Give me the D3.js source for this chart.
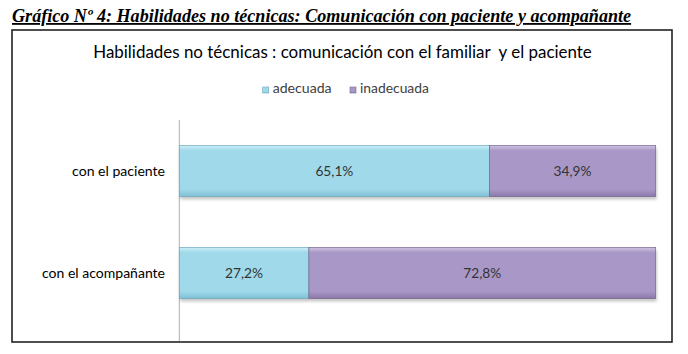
<!DOCTYPE html>
<html><head><meta charset="utf-8">
<script src="https://cdn.jsdelivr.net/npm/d3@7"></script>
<style>body{margin:0;background:#fff}svg{display:block}</style>
</head><body>
<script>
const categories = ["con el paciente", "con el acompañante"];
const seriesNames = ["adecuada", "inadecuada"];
const adecuada = [65.1, 27.2];
const inadecuada = [34.9, 72.8];
const valueLabels = [["65,1%", "34,9%"], ["27,2%", "72,8%"]];
const pageTitle = "Gráfico Nº 4: Habilidades no técnicas: Comunicación con paciente y acompañante";
const chartTitle = "Habilidades no técnicas : comunicación con el familiar  y el paciente";

const W = 688, H = 354;
const SANS = "Lato, 'Open Sans', sans-serif";
const svg = d3.select("body").append("svg").attr("width", W).attr("height", H);
const defs = svg.append("defs");
const colors = {
  adecuada: {top: "#cdf0f9", main: "#9fd9ea", bot: "#7fbfd4", edge: "#6aa9bf"},
  inadecuada: {top: "#cfc2e4", main: "#a998c7", bot: "#8a78a9", edge: "#75648f"}
};
seriesNames.forEach(s => {
  const g = defs.append("linearGradient").attr("id", "g-" + s).attr("x1", 0).attr("y1", 0).attr("x2", 0).attr("y2", 1);
  g.append("stop").attr("offset", "0").attr("stop-color", colors[s].top);
  g.append("stop").attr("offset", "0.1").attr("stop-color", colors[s].main);
  g.append("stop").attr("offset", "0.86").attr("stop-color", colors[s].main);
  g.append("stop").attr("offset", "1").attr("stop-color", colors[s].bot);
});
const blur = defs.append("filter").attr("id", "sh").attr("x", "-5%").attr("y", "-20%").attr("width", "110%").attr("height", "160%");
blur.append("feGaussianBlur").attr("stdDeviation", 1.6);

// fit a text element's font size so it spans a target width
function fit(sel, target) {
  const base = 10;
  sel.attr("font-size", base);
  const w = sel.node().getComputedTextLength();
  sel.attr("font-size", (base * target / w).toFixed(2));
  return sel;
}

// page title
fit(svg.append("text").attr("x", 12).attr("y", 22)
  .attr("font-family", "Liberation Serif, serif").attr("font-weight", "bold").attr("font-style", "italic")
  .attr("fill", "#000").attr("text-decoration", "underline").text(pageTitle), 619);

// frame
svg.append("rect").attr("x", 12).attr("y", 30).attr("width", 660).attr("height", 312)
  .attr("fill", "#fff").attr("stroke", "#222").attr("stroke-width", 1.6);

// chart title
fit(svg.append("text").attr("x", 342.5).attr("y", 58).attr("text-anchor", "middle")
  .attr("font-family", SANS).attr("fill", "#000")
  .style("white-space", "pre").text(chartTitle), 499);

// legend
const legX = [262.7, 350];
const legW = [59, 69];
seriesNames.forEach((s, i) => {
  svg.append("rect").attr("x", legX[i]).attr("y", 87).attr("width", 6).attr("height", 6)
    .attr("fill", `url(#g-${s})`).attr("stroke", colors[s].edge).attr("stroke-width", 0.6);
  fit(svg.append("text").attr("x", legX[i] + 10).attr("y", 93.3).attr("font-family", SANS)
    .attr("fill", "#404040").text(s), legW[i]);
});

// scales
const x = d3.scaleLinear().domain([0, 100]).range([179.3, 655.7]);
const y = d3.scaleBand().domain(categories).range([120, 324]).paddingInner(0.5).paddingOuter(0.25);

// axis line
svg.append("line").attr("x1", x(0)).attr("x2", x(0)).attr("y1", 120).attr("y2", 341)
  .attr("stroke", "#b0b0b0").attr("stroke-width", 1);

const stackData = categories.map((c, i) => ({cat: c, adecuada: adecuada[i], inadecuada: inadecuada[i]}));
const stack = d3.stack().keys(seriesNames)(stackData);

// shadows
const shadowG = svg.append("g");
stackData.forEach(d => {
  shadowG.append("rect").attr("x", x(0) + 1).attr("y", y(d.cat) + 3)
    .attr("width", x(100) - x(0)).attr("height", y.bandwidth())
    .attr("fill", "#000").attr("opacity", 0.22).attr("filter", "url(#sh)");
});

stack.forEach((layer, si) => {
  const s = seriesNames[si];
  const g = svg.append("g");
  layer.forEach((seg, ci) => {
    const cat = stackData[ci].cat;
    const x0 = x(seg[0]), x1 = x(seg[1]);
    const yy = y(cat), h = y.bandwidth();
    g.append("rect").attr("x", x0).attr("y", yy).attr("width", x1 - x0).attr("height", h)
      .attr("fill", `url(#g-${s})`).attr("stroke", colors[s].edge).attr("stroke-width", 0.7);
    fit(g.append("text").attr("x", (x0 + x1) / 2).attr("y", yy + h / 2 + 5).attr("text-anchor", "middle")
      .attr("font-family", SANS).attr("fill", "#333")
      .text(valueLabels[ci][si]), 38);
  });
});

// category labels
const catW = [93, 123];
categories.forEach((c, i) => {
  fit(svg.append("text").attr("x", 165).attr("y", y(c) + y.bandwidth() / 2 + 4.5)
    .attr("text-anchor", "end").attr("font-family", SANS)
    .attr("fill", "#000").text(c), catW[i]);
});
</script>
</body></html>
